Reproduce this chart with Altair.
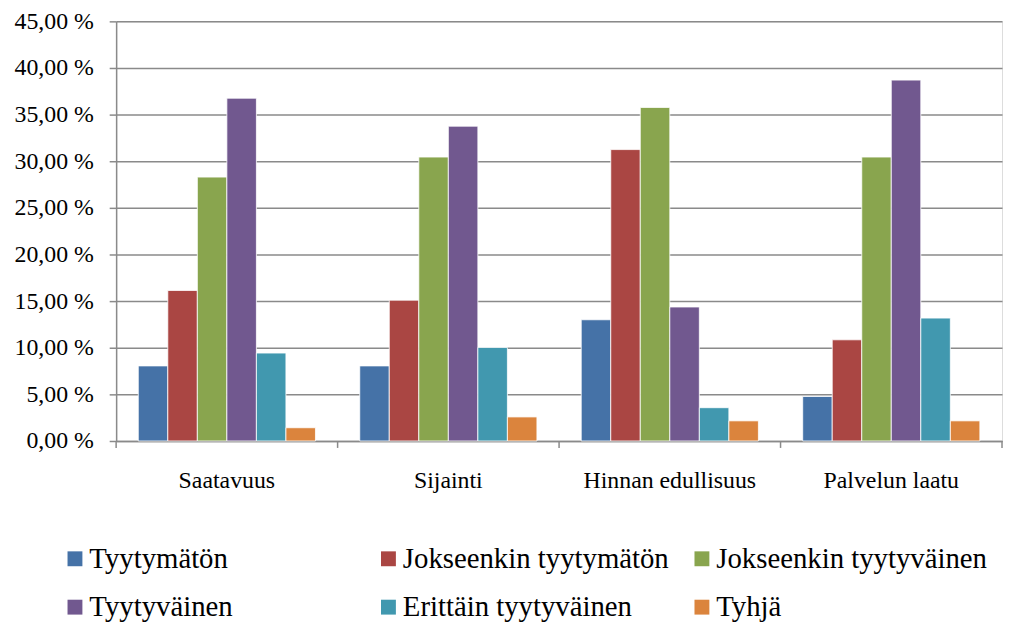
import altair as alt
import pandas as pd

categories = ["Saatavuus", "Sijainti", "Hinnan edullisuus", "Palvelun laatu"]
series = ["Tyytymätön", "Jokseenkin tyytymätön", "Jokseenkin tyytyväinen",
          "Tyytyväinen", "Erittäin tyytyväinen", "Tyhjä"]
colors = ["#4572A7", "#AA4643", "#89A54E", "#71588F", "#4198AF", "#DB843D"]

tyytymaton = [8.05, 8.05, 13.00, 4.77]
jokseenkin_tyytymaton = [16.14, 15.10, 31.25, 10.85]
jokseenkin_tyytyvainen = [28.30, 30.45, 35.77, 30.45]
tyytyvainen = [36.76, 33.76, 14.37, 38.70]
erittain_tyytyvainen = [9.43, 10.03, 3.57, 13.18]
tyhja = [1.42, 2.58, 2.16, 2.16]

y_ticks = [0, 5, 10, 15, 20, 25, 30, 35, 40, 45]

values = [tyytymaton, jokseenkin_tyytymaton, jokseenkin_tyytyvainen,
          tyytyvainen, erittain_tyytyvainen, tyhja]
rows = []
for s, vals in zip(series, values):
    for c, v in zip(categories, vals):
        rows.append({"cat": c, "series": s, "value": v})
df = pd.DataFrame(rows)
cat_df = pd.DataFrame({"cat": categories})
last_df = pd.DataFrame({"cat": categories[-1:]})

# the legend fills its grid column by column (2 rows): reorder so rows read 0,1,2 / 3,4,5
legend_order = [0, 3, 1, 4, 2, 5]
color_domain = [series[i] for i in legend_order]
color_range = [colors[i] for i in legend_order]

FONT = "Liberation Serif"
W, H = 893, 423
TOP = 11

xscale = alt.Scale(domain=categories, paddingInner=0, paddingOuter=0)

bars = alt.Chart(df).mark_bar(stroke="white", strokeWidth=0.8).encode(
    x=alt.X("cat:N", sort=categories, scale=xscale, title=None,
            axis=alt.Axis(labelAngle=0, ticks=False, tickSize=0, labelPadding=28,
                          labelFont=FONT, labelFontSize=24, labelColor="black",
                          domainColor="#8a8a8a", domainWidth=1.5, grid=False)),
    xOffset=alt.XOffset("series:N", sort=series,
                        scale=alt.Scale(domain=series, paddingInner=0, paddingOuter=0.75)),
    y=alt.Y("value:Q", title=None,
            scale=alt.Scale(domain=[0, 45], nice=False, zero=True),
            axis=alt.Axis(values=y_ticks,
                          labelExpr="replace(format(datum.value, '.2f'), '.', ',') + ' %'",
                          labelFont=FONT, labelFontSize=24, labelColor="black",
                          labelPadding=16, tickSize=7, tickColor="#8a8a8a", tickWidth=1.5,
                          domainColor="#8a8a8a", domainWidth=1.5,
                          gridColor="#8a8a8a", gridWidth=1.5)),
    color=alt.Color("series:N",
                    scale=alt.Scale(domain=color_domain, range=color_range),
                    sort=color_domain,
                    legend=alt.Legend(title=None, orient="none", legendX=-56, legendY=527,
                                      columns=3, gridAlign="all", symbolType="square",
                                      symbolSize=225, symbolStrokeWidth=0,
                                      labelFont=FONT, labelFontSize=29, labelColor="black",
                                      labelOffset=0, rowPadding=19, columnPadding=13,
                                      labelLimit=500, padding=0)),
)

ticks0 = alt.Chart(cat_df).mark_rule(color="#8a8a8a", strokeWidth=1.5).encode(
    x=alt.X("cat:N", sort=categories, scale=xscale, bandPosition=0),
    y=alt.value(H), y2=alt.value(H + 7),
)
ticks1 = alt.Chart(last_df).mark_rule(color="#8a8a8a", strokeWidth=1.5).encode(
    x=alt.X("cat:N", sort=categories, scale=xscale, bandPosition=1),
    y=alt.value(H), y2=alt.value(H + 7),
)

chart = alt.layer(bars, ticks0, ticks1).properties(
    width=W, height=H,
    autosize=alt.AutoSizeParams(type="none"),
    padding={"left": 109, "top": TOP, "right": 2, "bottom": 180},
).configure_view(stroke=None).configure(background="white")

chart.save("out.html", embed_options={"renderer": "svg", "actions": False})
